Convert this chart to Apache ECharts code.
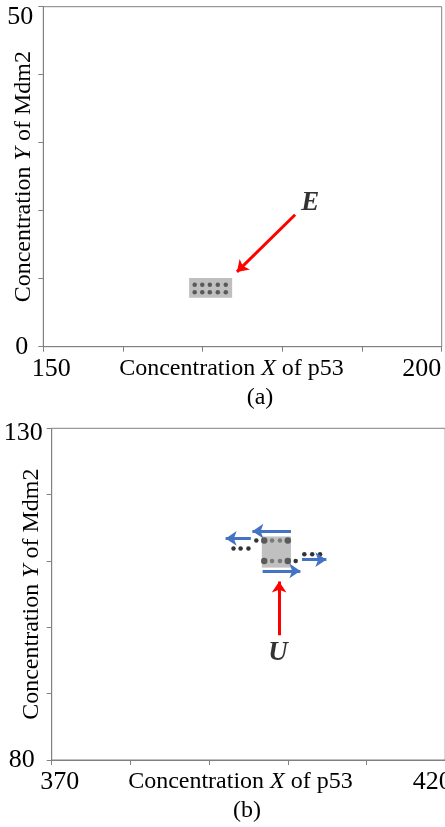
<!DOCTYPE html>
<html>
<head>
<meta charset="utf-8">
<script src="https://cdn.jsdelivr.net/npm/echarts@6/dist/echarts.min.js"></script>
<style>html,body{margin:0;padding:0;background:#fff;}#c{width:445px;height:827px;}</style>
</head>
<body>
<div id="c"></div>
<script>
// ---- Panel (a) data ----
var xRangeA = [150, 200];
var yRangeA = [0, 50];
var xTickLabelsA = [150, 200];
var yTickLabelsA = [0, 50];
var boxA = [[168.3, 173.7, 7.2, 10.1]]; // x0, x1, y0, y1
var dotsA = [
  [169.0, 9.1], [169.95, 9.1], [170.9, 9.1], [171.9, 9.1], [172.9, 9.1],
  [169.0, 8.0], [169.95, 8.0], [170.9, 8.0], [171.9, 8.0], [172.9, 8.0]
];
var redArrowA = [[181.6, 19.4], [174.3, 11.0]];
var labelA = [[183.5, 21.1, 'E']];

// ---- Panel (b) data ----
var xRangeB = [370, 420];
var yRangeB = [80, 130];
var xTickLabelsB = [370, 420];
var yTickLabelsB = [80, 130];
var boxB = [[396.7, 400.4, 109.0, 113.7]];
var bigDotsB = [[397.0, 113.1], [400.0, 113.1], [397.0, 110.0], [400.0, 110.0]];
var midDotsB = [[398.0, 113.1], [399.0, 113.1], [398.0, 110.0], [399.0, 110.0]];
var blackDotsB = [
  [396.0, 113.1], [401.0, 110.0],
  [393.1, 111.9], [394.0, 111.9], [395.0, 111.9],
  [402.1, 111.0], [403.1, 111.0], [404.1, 111.0]
];
var blueArrowsB = [
  [[400.4, 114.5], [395.5, 114.5]],
  [[395.3, 113.4], [392.1, 113.4]],
  [[396.8, 108.5], [401.6, 108.5]],
  [[401.8, 110.2], [404.9, 110.2]]
];
var redArrowB = [[398.9, 98.8], [398.9, 106.9]];
var labelB = [[398.75, 96.1, 'U']];

var SERIF = 'Liberation Serif';
var AXC = '#808080';

function richTick(sz) {
  return {
    l: {fontFamily: SERIF, fontSize: sz, color: '#000', padding: [0, 0, 0, 16]},
    r: {fontFamily: SERIF, fontSize: sz, color: '#000', padding: [0, 40, 0, 0]},
    r2: {fontFamily: SERIF, fontSize: sz, color: '#000', padding: [0, 26, 0, 0]},
    t: {fontFamily: SERIF, fontSize: sz, color: '#000', padding: [20, 0, 0, 0]},
    t2: {fontFamily: SERIF, fontSize: sz, color: '#000', padding: [10, 0, 0, 0]},
    b: {fontFamily: SERIF, fontSize: sz, color: '#000', padding: [0, 5, 0, 0]},
    b2: {fontFamily: SERIF, fontSize: sz, color: '#000', padding: [0, 8, 0, 0]}
  };
}
var nameRich = {
  n: {fontFamily: SERIF, fontSize: 24, color: '#000'},
  i: {fontFamily: SERIF, fontSize: 24, color: '#000', fontStyle: 'italic'}
};

function xAxisCfg(range, ticks, gi, leftStyle, rightStyle, namePadR) {
  return {
    type: 'value', gridIndex: gi, min: range[0], max: range[1], interval: 10,
    name: '{n|Concentration }{i|X}{n| of p53}',
    nameLocation: 'middle', nameGap: 10, nameMoveOverlap: false,
    nameTextStyle: {rich: nameRich, padding: [0, namePadR, 0, 0]},
    axisLine: {show: true, lineStyle: {color: AXC, width: 1}},
    axisTick: {show: true, inside: false, length: 5, lineStyle: {color: AXC}},
    splitLine: {show: false},
    axisLabel: {
      margin: 9, showMinLabel: true, showMaxLabel: true, hideOverlap: false,
      fontFamily: SERIF, fontSize: 26, color: '#000',
      rich: richTick(26),
      formatter: function (v) {
        if (v === ticks[0]) return '{' + leftStyle + '|' + v + '}';
        if (v === ticks[1]) return '{' + rightStyle + '|' + v + '}';
        return '';
      }
    }
  };
}
function yAxisCfg(range, ticks, gi, botStyle, topStyle, margin) {
  return {
    type: 'value', gridIndex: gi, min: range[0], max: range[1], interval: 10,
    name: '{n|Concentration }{i|Y}{n| of Mdm2}',
    nameLocation: 'middle', nameGap: 8, nameRotate: 90, nameMoveOverlap: false,
    nameTextStyle: {rich: nameRich},
    axisLine: {show: true, lineStyle: {color: AXC, width: 1}},
    axisTick: {show: true, inside: false, length: 5, lineStyle: {color: AXC}},
    splitLine: {show: false},
    axisLabel: {
      margin: margin, showMinLabel: true, showMaxLabel: true, hideOverlap: false,
      fontFamily: SERIF, fontSize: 26, color: '#000',
      rich: richTick(26),
      formatter: function (v) {
        if (v === ticks[0]) return '{' + botStyle + '|' + v + '}';
        if (v === ticks[1]) return '{' + topStyle + '|' + v + '}';
        return '';
      }
    }
  };
}

function boxSeries(data, gi, color) {
  return {
    type: 'custom', xAxisIndex: gi, yAxisIndex: gi, z: 1,
    data: data,
    encode: {x: [0, 1], y: [2, 3]},
    renderItem: function (params, api) {
      var p1 = api.coord([api.value(0), api.value(3)]);
      var p2 = api.coord([api.value(1), api.value(2)]);
      return {type: 'rect', shape: {x: p1[0], y: p1[1], width: p2[0] - p1[0], height: p2[1] - p1[1]},
        style: {fill: color}};
    },
    silent: true
  };
}
function arrowSeries(list, gi, color) {
  return {
    type: 'lines', coordinateSystem: 'cartesian2d', xAxisIndex: gi, yAxisIndex: gi, z: 5,
    symbol: ['none', 'arrow'], symbolSize: [10, 11],
    lineStyle: {color: color, width: 3, opacity: 1, curveness: 0},
    data: list.map(function (c) { return {coords: c}; }),
    silent: true
  };
}
function letterSeries(data, gi) {
  return {
    type: 'scatter', xAxisIndex: gi, yAxisIndex: gi, symbolSize: 0, z: 6,
    data: data,
    label: {show: true, position: 'inside', formatter: function (p) { return p.value[2]; },
      fontFamily: SERIF, fontSize: 27, fontWeight: 'bold', fontStyle: 'italic', color: '#000'},
    silent: true
  };
}

var chart = echarts.init(document.getElementById('c'), null, {renderer: 'canvas'});
chart.setOption({
  animation: false,
  backgroundColor: '#fff',
  grid: [
    {left: 43.3, top: 6.7, width: 398.4, height: 340, containLabel: false, outerBoundsMode: 'none',
      show: true, borderColor: AXC, borderWidth: 1, backgroundColor: 'transparent'},
    {left: 51.7, top: 428.3, width: 393.5, height: 331.7, containLabel: false, outerBoundsMode: 'none',
      show: true, borderColor: AXC, borderWidth: 1, backgroundColor: 'transparent'}
  ],
  xAxis: [xAxisCfg(xRangeA, xTickLabelsA, 0, 'l', 'r', 22), xAxisCfg(xRangeB, xTickLabelsB, 1, 'l', 'r2', 16)],
  yAxis: [yAxisCfg(yRangeA, yTickLabelsA, 0, 'b', 't', 10), yAxisCfg(yRangeB, yTickLabelsB, 1, 'b2', 't2', 9)],
  graphic: [
    {type: 'text', x: 260, y: 398, style: {text: '(a)', fontFamily: SERIF, fontSize: 24, fill: '#000', align: 'center', verticalAlign: 'middle'}},
    {type: 'text', x: 247, y: 811, style: {text: '(b)', fontFamily: SERIF, fontSize: 24, fill: '#000', align: 'center', verticalAlign: 'middle'}}
  ],
  series: [
    boxSeries(boxA, 0, '#bfbfbf'),
    {type: 'scatter', xAxisIndex: 0, yAxisIndex: 0, z: 3, symbol: 'circle', symbolSize: 4.5,
      itemStyle: {color: '#404040'}, data: dotsA, silent: true},
    arrowSeries([redArrowA], 0, '#ff0000'),
    letterSeries(labelA, 0),

    boxSeries(boxB, 1, '#c0c0c0'),
    {type: 'scatter', xAxisIndex: 1, yAxisIndex: 1, z: 3, symbol: 'circle', symbolSize: 6.5,
      itemStyle: {color: '#404040'}, data: bigDotsB, silent: true},
    {type: 'scatter', xAxisIndex: 1, yAxisIndex: 1, z: 3, symbol: 'circle', symbolSize: 4.5,
      itemStyle: {color: '#666666'}, data: midDotsB, silent: true},
    {type: 'scatter', xAxisIndex: 1, yAxisIndex: 1, z: 3, symbol: 'circle', symbolSize: 4.5,
      itemStyle: {color: '#000000'}, data: blackDotsB, silent: true},
    arrowSeries(blueArrowsB, 1, '#4472c4'),
    arrowSeries([redArrowB], 1, '#ff0000'),
    letterSeries(labelB, 1)
  ]
});
</script>
</body>
</html>
